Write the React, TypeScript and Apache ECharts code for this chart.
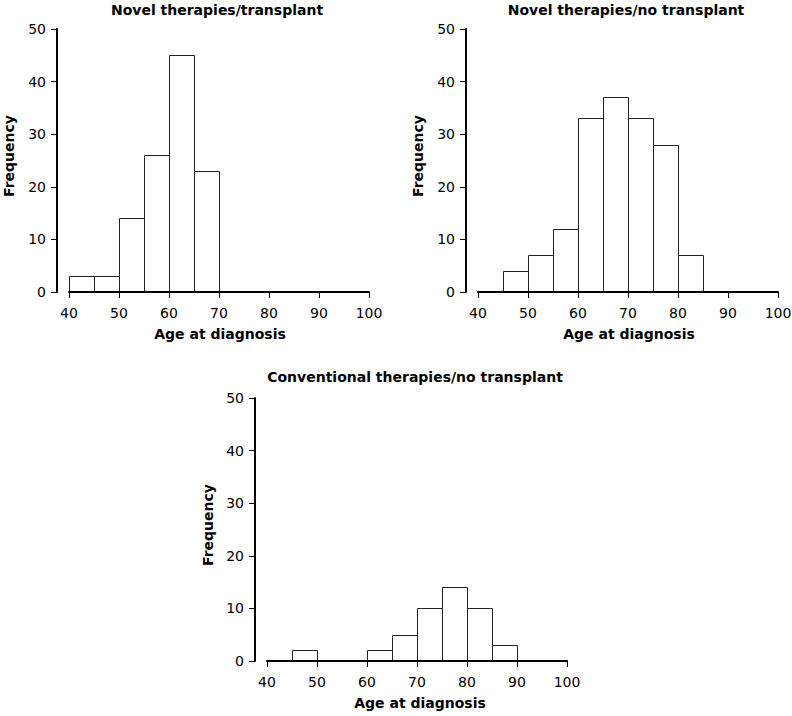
import React, { useEffect, useRef } from "react";
import * as echarts from "echarts";

// Histogram bins (age at diagnosis), width 5 years
const BIN_STARTS = [40, 45, 50, 55, 60, 65, 70, 75, 80, 85, 90, 95];
const BIN_WIDTH = 5;

// Frequencies per bin
const NOVEL_TRANSPLANT = [3, 3, 14, 26, 45, 23, 0, 0, 0, 0, 0, 0];
const NOVEL_NO_TRANSPLANT = [0, 4, 7, 12, 33, 37, 33, 28, 7, 0, 0, 0];
const CONVENTIONAL_NO_TRANSPLANT = [0, 2, 0, 0, 2, 5, 10, 14, 10, 3, 0, 0];

const PANEL_TITLES = [
  "Novel therapies/transplant",
  "Novel therapies/no transplant",
  "Conventional therapies/no transplant",
];
const X_NAME = "Age at diagnosis";
const Y_NAME = "Frequency";

const X_MIN = 40;
const X_MAX = 100;
const X_STEP = 10;
const Y_MIN = 0;
const Y_MAX = 50;
const Y_STEP = 10;

const FONT = "'DejaVu Sans', 'Liberation Sans', Arial, sans-serif";

// layout of each panel (plot area)
const LAYOUT = [
  { left: 69, top: 29, width: 300, height: 263, titleX: 217, titleY: 10, xNameX: 220, yNameX: 8.5 },
  { left: 478, top: 29, width: 300, height: 263, titleX: 626, titleY: 10, xNameX: 629, yNameX: 418 },
  { left: 267, top: 398, width: 300, height: 263, titleX: 415, titleY: 377, xNameX: 420, yNameX: 207.5 },
];

const SERIES_DATA = [NOVEL_TRANSPLANT, NOVEL_NO_TRANSPLANT, CONVENTIONAL_NO_TRANSPLANT];

export default function App() {
  const ref = useRef<HTMLDivElement>(null);

  useEffect(() => {
    if (!ref.current) return;
    const chart = echarts.init(ref.current, null, { renderer: "svg" });

    const grids = LAYOUT.map((l) => ({
      left: l.left,
      top: l.top,
      width: l.width,
      height: l.height,
      containLabel: false,
      outerBoundsMode: "none",
    }));

    const axisLineStyle = { color: "#000", width: 2 };
    const labelStyle = { color: "#000", fontFamily: FONT, fontSize: 14 };

    const xAxes = LAYOUT.map((_, i) => ({
      type: "value",
      gridIndex: i,
      min: X_MIN,
      max: X_MAX,
      interval: X_STEP,
      position: "bottom",
      z: 10,
      axisLine: { show: true, onZero: false, lineStyle: axisLineStyle },
      axisTick: { show: true, inside: false, length: 6, lineStyle: { color: "#000", width: 1 } },
      axisLabel: { ...labelStyle, margin: 14, hideOverlap: false },
      splitLine: { show: false },
    }));

    const yAxes = LAYOUT.map((_, i) => ({
      type: "value",
      gridIndex: i,
      min: Y_MIN,
      max: Y_MAX,
      interval: Y_STEP,
      position: "left",
      offset: 12,
      z: 10,
      axisLine: { show: true, onZero: false, lineStyle: axisLineStyle },
      axisTick: { show: true, inside: false, length: 6, lineStyle: { color: "#000", width: 1 } },
      axisLabel: { ...labelStyle, margin: 11, hideOverlap: false },
      splitLine: { show: false },
    }));

    const series = SERIES_DATA.map((counts, i) => ({
      type: "custom",
      xAxisIndex: i,
      yAxisIndex: i,
      clip: false,
      z: 2,
      encode: { x: [0, 1], y: 2 },
      data: BIN_STARTS.map((s, j) => [s, s + BIN_WIDTH, counts[j]]),
      renderItem: (params: any, api: any) => {
        const c = api.value(2);
        if (!c) return null;
        const p0 = api.coord([api.value(0), c]);
        const p1 = api.coord([api.value(1), 0]);
        const x0 = Math.round(p0[0]) + 0.5;
        const x1 = Math.round(p1[0]) + 0.5;
        const y0 = Math.round(p0[1]) + 0.5;
        const y1 = p1[1];
        return {
          type: "rect",
          shape: { x: x0, y: y0, width: x1 - x0, height: y1 - y0 },
          style: { fill: "#fff", stroke: "#222", lineWidth: 1 },
        };
      },
    }));

    const texts: any[] = [];
    LAYOUT.forEach((l, i) => {
      texts.push({
        type: "text",
        x: l.titleX,
        y: l.titleY,
        style: {
          text: PANEL_TITLES[i],
          align: "center",
          verticalAlign: "middle",
          font: `bold 14px ${FONT}`,
          fill: "#000",
        },
      });
      texts.push({
        type: "text",
        x: l.xNameX,
        y: l.top + l.height + 42,
        style: {
          text: X_NAME,
          align: "center",
          verticalAlign: "middle",
          font: `bold 14px ${FONT}`,
          fill: "#000",
        },
      });
      texts.push({
        type: "text",
        x: l.yNameX,
        y: l.top + l.height / 2 - 4.5,
        rotation: Math.PI / 2,
        style: {
          text: Y_NAME,
          align: "center",
          verticalAlign: "middle",
          font: `bold 14px ${FONT}`,
          fill: "#000",
        },
      });
    });

    chart.setOption({
      animation: false,
      backgroundColor: "#fff",
      grid: grids,
      xAxis: xAxes,
      yAxis: yAxes,
      series,
      graphic: texts,
    });

    return () => chart.dispose();
  }, []);

  return (
    <div
      ref={ref}
      style={{ position: "fixed", left: 0, top: 0, width: 792, height: 716, background: "#fff" }}
    />
  );
}
